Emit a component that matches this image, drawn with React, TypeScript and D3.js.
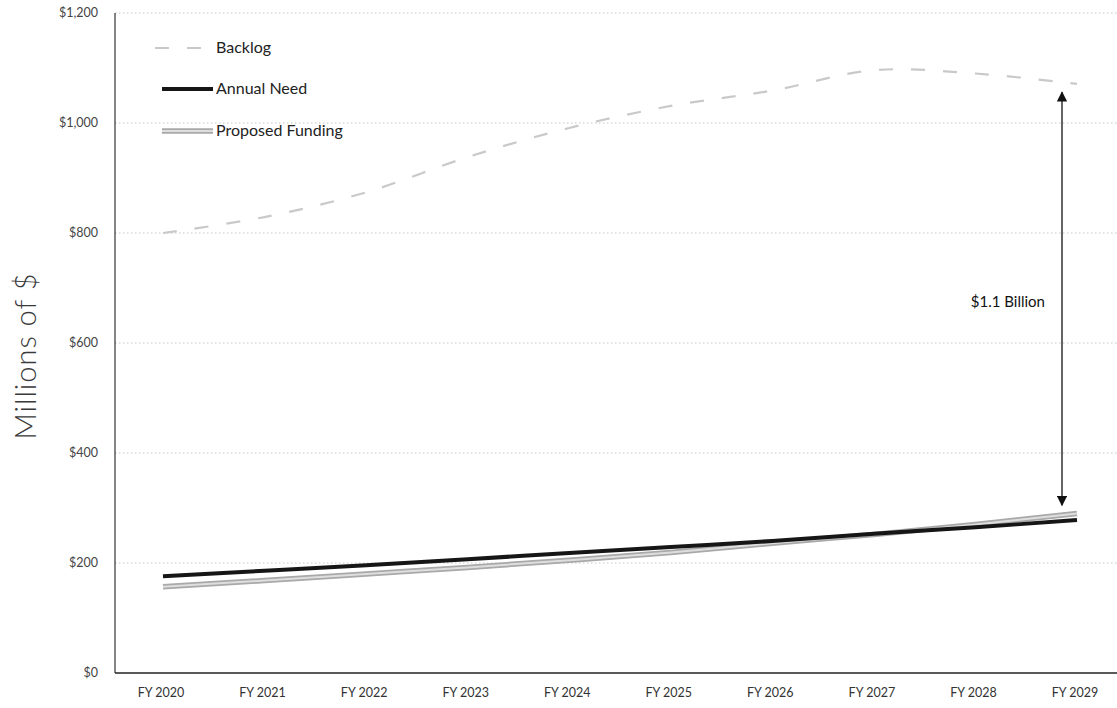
import * as d3 from "d3";

const years = ["FY 2020", "FY 2021", "FY 2022", "FY 2023", "FY 2024", "FY 2025", "FY 2026", "FY 2027", "FY 2028", "FY 2029"];
const backlog = [800, 829, 874, 938, 991, 1031, 1059, 1096, 1090, 1071];
const annualNeed = [176, 186, 196, 207, 218, 229, 240, 253, 265, 278];
const proposedFunding = [157, 168, 180, 192, 205, 219, 236, 252, 270, 290];
const yTicks = [0, 200, 400, 600, 800, 1000, 1200];

// gap annotation ($ millions), drawn just left of the last year
const gapTop = 1056;
const gapBottom = 305;
const gapLabel = "$1.1 Billion";

const W = 1117;
const H = 708;
const FONT = "Lato, 'Open Sans', sans-serif";

export default function App() {
  const x = d3.scalePoint<string>().domain(years).range([163, 1077]);
  const y = d3.scaleLinear().domain([0, 1200]).range([673, 13]);
  const xi = (i: number) => x(years[i]) as number;

  const line = d3
    .line<number>()
    .x((_, i) => xi(i))
    .y((d) => y(d))
    .curve(d3.curveCatmullRom.alpha(0.5));

  const arrowX = 1062;
  const legend = [
    { label: "Backlog", y: 48, x1: 155, kind: "backlog" },
    { label: "Annual Need", y: 89, x1: 162, kind: "need" },
    { label: "Proposed Funding", y: 131, x1: 162, kind: "funding" },
  ];

  const sample = (kind: string, x1: number, x2: number, yy: number) => {
    if (kind === "backlog")
      return <line x1={x1} x2={x2} y1={yy} y2={yy} stroke="#c9c9c9" strokeWidth={2.2} strokeDasharray="14 18" />;
    if (kind === "need")
      return <line x1={x1} x2={x2} y1={yy} y2={yy} stroke="#161616" strokeWidth={4} />;
    return (
      <g>
        <line x1={x1} x2={x2} y1={yy} y2={yy} stroke="#a9a9a9" strokeWidth={5.5} />
        <line x1={x1} x2={x2} y1={yy} y2={yy} stroke="#dedede" strokeWidth={2} />
      </g>
    );
  };

  return (
    <svg width={W} height={H} style={{ position: "absolute", left: 0, top: 0, background: "#fff" }}>
      <defs>
        <marker id="ah" viewBox="0 0 10 10" refX="9" refY="5" markerWidth="8" markerHeight="8" orient="auto-start-reverse">
          <path d="M0,0 L10,5 L0,10 z" fill="#111" />
        </marker>
      </defs>

      {/* gridlines */}
      {yTicks.slice(1).map((t) => (
        <line key={t} x1={115} x2={W} y1={y(t)} y2={y(t)} stroke="#b5b5b5" strokeWidth={0.8} strokeDasharray="1.5 2.5" />
      ))}

      {/* axes */}
      <line x1={115} x2={115} y1={y(1200)} y2={y(0)} stroke="#333" strokeWidth={1.2} />
      <line x1={115} x2={W} y1={y(0)} y2={y(0)} stroke="#222" strokeWidth={1.4} />

      {yTicks.map((t) => (
        <text key={t} x={98} y={y(t) + 4} textAnchor="end" fontFamily={FONT} fontSize={12.5} fill="#444">
          {"$" + d3.format(",")(t)}
        </text>
      ))}
      {years.map((yr, i) => (
        <text key={yr} x={xi(i) - 2} y={697} textAnchor="middle" fontFamily={FONT} fontSize={12.5} fill="#333">
          {yr}
        </text>
      ))}

      <text
        transform={`translate(36,356) rotate(-90)`}
        textAnchor="middle"
        fontFamily={FONT}
        fontSize={29}
        fontWeight={300}
        letterSpacing={1}
        fill="#3a3a3a"
      >
        Millions of $
      </text>

      {/* series */}
      <path d={line(backlog) ?? ""} fill="none" stroke="#c9c9c9" strokeWidth={2.2} strokeDasharray="14 18" />
      <path d={line(proposedFunding) ?? ""} fill="none" stroke="#a9a9a9" strokeWidth={5.5} />
      <path d={line(proposedFunding) ?? ""} fill="none" stroke="#dedede" strokeWidth={2} />
      <path d={line(annualNeed) ?? ""} fill="none" stroke="#161616" strokeWidth={4} />

      {/* gap annotation */}
      <line x1={arrowX} x2={arrowX} y1={y(gapTop)} y2={y(gapBottom)} stroke="#111" strokeWidth={1.3} markerStart="url(#ah)" markerEnd="url(#ah)" />
      <text x={1045} y={307} textAnchor="end" fontFamily={FONT} fontSize={15} fill="#111">
        {gapLabel}
      </text>

      {/* legend */}
      {legend.map((l) => (
        <g key={l.label}>
          {sample(l.kind, l.x1, 213, l.y)}
          <text x={216} y={l.y + 5} fontFamily={FONT} fontSize={16} fill="#222">
            {l.label}
          </text>
        </g>
      ))}
    </svg>
  );
}
